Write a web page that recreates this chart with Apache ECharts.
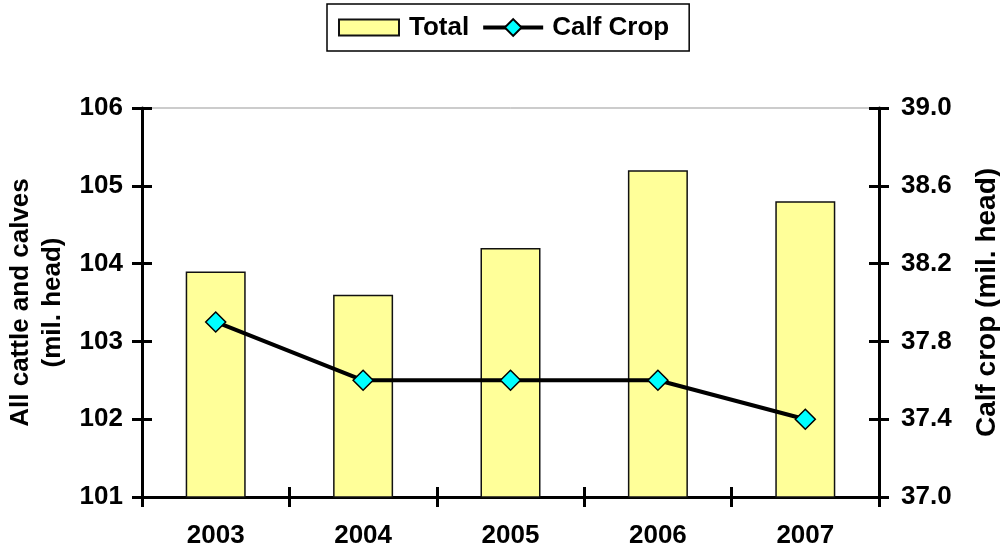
<!DOCTYPE html>
<html>
<head>
<meta charset="utf-8">
<script src="https://cdn.jsdelivr.net/npm/echarts@6/dist/echarts.min.js"></script>
<style>html,body{margin:0;padding:0;background:#fff}#c{width:1000px;height:554px}</style>
</head>
<body>
<div id="c"></div>
<script>
var years = ['2003', '2004', '2005', '2006', '2007'];
var totalValues = [103.9, 103.6, 104.2, 105.2, 104.8];
var calfCropValues = [37.9, 37.6, 37.6, 37.6, 37.4];
var leftTicks = [101, 102, 103, 104, 105, 106];
var rightTicks = [37.0, 37.4, 37.8, 38.2, 38.6, 39.0];

var FONT = 'Liberation Sans, Arial, sans-serif';
var chart = echarts.init(document.getElementById('c'), null, {renderer: 'canvas'});
var lbl = {fontFamily: FONT, fontWeight: 'bold', fontSize: 26, color: '#000'};

function yAx(pos, ticks, main) {
  return {
    type: 'value', position: pos, offset: 0,
    min: ticks[0], max: ticks[ticks.length - 1],
    interval: ticks[1] - ticks[0],
    splitLine: {show: false},
    axisLine: {show: main, lineStyle: {color: '#000', width: 3}},
    axisTick: {show: true, inside: !main, length: 10, lineStyle: {color: '#000', width: 3}},
    axisLabel: main ? Object.assign({margin: pos === 'left' ? 19 : 22,
      formatter: function (v) { return pos === 'left' ? String(Math.round(v)) : v.toFixed(1); }}, lbl) : {show: false}
  };
}

var left = yAx('left', leftTicks, true);
left.name = 'All cattle and calves\n(mil. head)';
left.nameLocation = 'middle';
left.nameRotate = 90;
left.nameGap = 70;
left.nameTextStyle = {fontFamily: FONT, fontWeight: 'bold', fontSize: 26, color: '#000', lineHeight: 32};

var right = yAx('right', rightTicks, true);
right.name = 'Calf crop (mil. head)';
right.nameLocation = 'middle';
right.nameRotate = 90;
right.nameGap = 94;
right.nameTextStyle = {fontFamily: FONT, fontWeight: 'bold', fontSize: 28, color: '#000'};

var leftDup = yAx('left', leftTicks, false);
var rightDup = yAx('right', rightTicks, false);

chart.setOption({
  animation: false,
  backgroundColor: '#fff',
  textStyle: {fontFamily: FONT},
  legend: {
    left: 327, top: 4,
    padding: [10, 20, 10, 11],
    itemWidth: 60, itemHeight: 21, itemGap: 12,
    borderColor: '#000', borderWidth: 1.5,
    symbolKeepAspect: true,
    textStyle: {fontFamily: FONT, fontWeight: 'bold', fontSize: 26, color: '#000', lineHeight: 27},
    data: [
      {name: 'Total', icon: 'path://M0 0H56V15H0Z', textStyle: {padding: [0, 0, 0, 5]}},
      {name: 'Calf Crop', lineStyle: {width: 4, color: '#000'}, textStyle: {padding: [0, 0, 0, 4]}}
    ]
  },
  grid: {left: 142, right: 121, top: 108, bottom: 57, show: true, borderColor: '#999', borderWidth: 1,
         containLabel: false, outerBoundsMode: 'none'},
  xAxis: [
    {
      type: 'category', data: years, position: 'bottom',
      axisLine: {lineStyle: {color: '#000', width: 3}},
      axisTick: {show: true, length: 10, lineStyle: {color: '#000', width: 3}},
      axisLabel: Object.assign({margin: 26}, lbl)
    },
    {
      type: 'category', data: years, position: 'bottom', offset: 0,
      axisLine: {show: false},
      axisTick: {show: true, inside: true, length: 10, lineStyle: {color: '#000', width: 3}},
      axisLabel: {show: false}
    }
  ],
  yAxis: [left, right, leftDup, rightDup],
  series: [
    {
      name: 'Total', type: 'bar', xAxisIndex: 0, yAxisIndex: 0,
      data: totalValues, barWidth: 60,
      itemStyle: {color: '#FFFF99', borderColor: '#111', borderWidth: 1.5}
    },
    {
      name: 'Calf Crop', type: 'line', xAxisIndex: 0, yAxisIndex: 1,
      data: calfCropValues, z: 5,
      symbol: 'diamond', symbolSize: 20,
      lineStyle: {color: '#000', width: 4},
      itemStyle: {color: '#00FFFF', borderColor: '#000', borderWidth: 1.5}
    }
  ]
});
</script>
</body>
</html>
